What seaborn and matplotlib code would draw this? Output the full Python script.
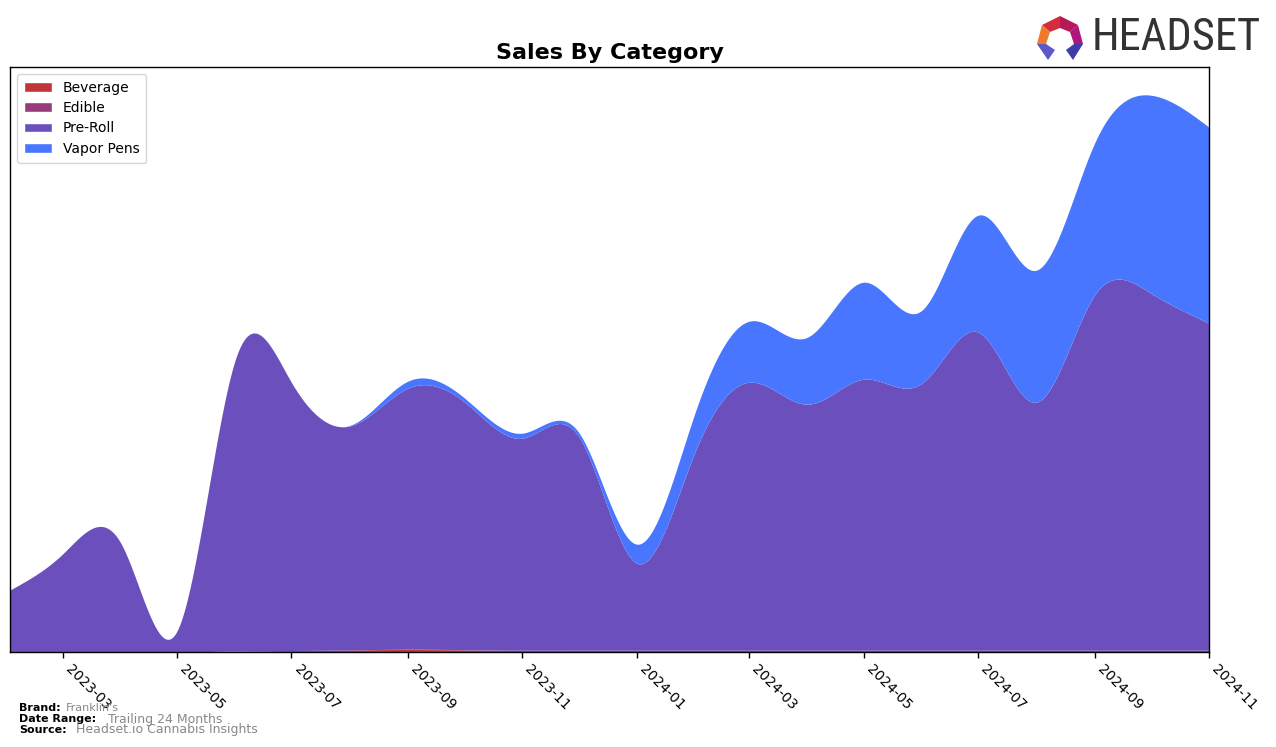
import numpy as np
import pandas as pd
import matplotlib
matplotlib.use("Agg")
import matplotlib.pyplot as plt
import matplotlib.dates as mdates
from matplotlib import font_manager
from matplotlib.patches import Patch, Polygon
import seaborn as sns

# ---- data (monthly, arbitrary units) ----
months = pd.date_range("2023-02-01", "2024-11-01", freq="MS")
categories = ["Beverage", "Edible", "Pre-Roll", "Vapor Pens"]
beverage = [0, 0, 0, 0, 1.0, 1.5, 2.0, 2.5, 2.0, 1.5, 1.5, 1.5,
            1.5, 1.5, 1.5, 1.5, 1.5, 1.5, 1.5, 1.5, 1.5, 1.5]
edible = [0, 0, 0, 0, 0, 0, 0, 0.3, 0.3, 0.3, 0.3, 0.3,
          0.3, 0.3, 0.3, 0.3, 0.3, 0.3, 0.3, 0.3, 0.3, 0.3]
pre_roll = [62, 98, 109, 21, 291, 268, 224, 261, 248, 212, 214, 87,
            198, 268, 246, 271, 267, 318, 248, 355, 357, 327]
vapor_pens = [0, 0, 0, 0, 0, 0, 0.5, 7, 4, 5, 4, 19,
              39, 61, 67, 97, 73, 117, 132, 152, 198, 196]
colors = ["#C0343A", "#983B7B", "#6A4FBD", "#4876FF"]
tick_dates = pd.date_range("2023-03-01", "2024-11-01", freq="2MS")


def smooth(x, y, xs):
    """Natural cubic spline used only to draw the smooth outline."""
    x = np.asarray(x, float)
    y = np.asarray(y, float)
    n = len(x) - 1
    h = np.diff(x)
    A = np.zeros((n + 1, n + 1))
    b = np.zeros(n + 1)
    A[0, 0] = 1.0
    A[n, n] = 1.0
    for i in range(1, n):
        A[i, i - 1] = h[i - 1]
        A[i, i] = 2 * (h[i - 1] + h[i])
        A[i, i + 1] = h[i]
        b[i] = 6 * ((y[i + 1] - y[i]) / h[i] - (y[i] - y[i - 1]) / h[i - 1])
    M = np.linalg.solve(A, b)
    idx = np.clip(np.searchsorted(x, xs) - 1, 0, n - 1)
    x0, x1 = x[idx], x[idx + 1]
    hh = x1 - x0
    t0, t1 = xs - x0, x1 - xs
    s = (M[idx] * t1 ** 3 / (6 * hh) + M[idx + 1] * t0 ** 3 / (6 * hh)
         + (y[idx] / hh - M[idx] * hh / 6) * t1
         + (y[idx + 1] / hh - M[idx + 1] * hh / 6) * t0)
    return np.clip(s, 0, None)


sns.set_style("white")
plt.rcParams["font.family"] = ["DejaVu Sans"]
plt.rcParams["text.color"] = "black"
plt.rcParams["xtick.color"] = "black"

fig = plt.figure(figsize=(12.76, 7.47), dpi=100)
ax = fig.add_axes([10 / 1276, 1 - 652 / 747, 1199 / 1276, 585 / 747])

xnum = mdates.date2num(months.to_pydatetime())
xs = np.linspace(xnum[0], xnum[-1], 800)
series = [beverage, edible, pre_roll, vapor_pens]
ys = [smooth(xnum, s, xs) for s in series]
ax.stackplot(xs, *ys, colors=colors, labels=categories, linewidth=0)

ax.set_xlim(xnum[0], xnum[-1])
ax.set_ylim(0, 585)
ax.set_yticks([])
ax.set_xticks(mdates.date2num(tick_dates.to_pydatetime()))
ax.set_xticklabels([d.strftime("%Y-%m") for d in tick_dates],
                   rotation=-45, ha="left", fontsize=10, color="black")
ax.tick_params(axis="x", length=4, width=1, direction="out", bottom=True, colors="black")
for sp in ax.spines.values():
    sp.set_visible(True)
    sp.set_color("black")
    sp.set_linewidth(1)

ax.set_title("Sales By Category", fontsize=16, fontweight="bold", pad=6, color="black")

handles = [Patch(facecolor=c, label=l) for c, l in zip(colors, categories)]
ax.legend(handles=handles, loc="upper left", fontsize=10, frameon=True,
          handlelength=2.0, borderpad=0.5, labelspacing=0.45)

# footer
fig.text(19 / 1276, 1 - 708 / 747, "Brand:", fontsize=8, fontweight="bold", va="center")
fig.text(66 / 1276, 1 - 708 / 747, "Franklin's", fontsize=8, color="#888888", va="center")
fig.text(19 / 1276, 1 - 719 / 747, "Date Range:", fontsize=8, fontweight="bold", va="center")
fig.text(108 / 1276, 1 - 719 / 747, "Trailing 24 Months", fontsize=9, color="#888888", va="center")
fig.text(19 / 1276, 1 - 730 / 747, "Source:", fontsize=8, fontweight="bold", va="center")
fig.text(76 / 1276, 1 - 730 / 747, "Headset.io Cannabis Insights", fontsize=9, color="#888888", va="center")

# logo
fonts = font_manager.fontManager.ttflist
names = {f.name for f in fonts}
logo_kw = dict(family="DejaVu Sans", fontsize=25)
if "Liberation Sans Narrow" in names:
    logo_kw = dict(family="Liberation Sans Narrow", fontsize=32.5)
elif "Roboto Condensed" in names:
    logo_kw = dict(family="Roboto Condensed", fontsize=32)
elif any(f.name == "DejaVu Sans" and str(f.stretch) in ("condensed", "semi-condensed")
         and f.weight in (400, "normal", "regular") for f in fonts):
    logo_kw = dict(family="DejaVu Sans", fontstretch="condensed", fontsize=28)
fig.text(1092 / 1276, 1 - 38 / 747, "HEADSET", color="#333333",
         va="center", ha="left", **logo_kw)
lx = lambda v: v / 1276
ly = lambda v: 1 - v / 747
logo_polys = [
    ([(1042, 25), (1060, 16), (1060, 28), (1050, 32)], "#D42E3A"),
    ([(1060, 16), (1078, 25), (1070, 32), (1060, 28)], "#B5195A"),
    ([(1078, 25), (1083, 44), (1074, 44), (1070, 32)], "#B0177E"),
    ([(1042, 25), (1050, 32), (1046, 44), (1037, 44)], "#F07A2A"),
    ([(1037, 44), (1046, 44), (1055, 50), (1048, 60)], "#5C58C8"),
    ([(1083, 44), (1074, 44), (1066, 50), (1073, 60)], "#3F3BA8"),
]
for pts, c in logo_polys:
    fig.patches.append(Polygon([(lx(a), ly(b)) for a, b in pts], closed=True,
                               facecolor=c, edgecolor="none",
                               transform=fig.transFigure))

fig.savefig("out.png", dpi=100)
